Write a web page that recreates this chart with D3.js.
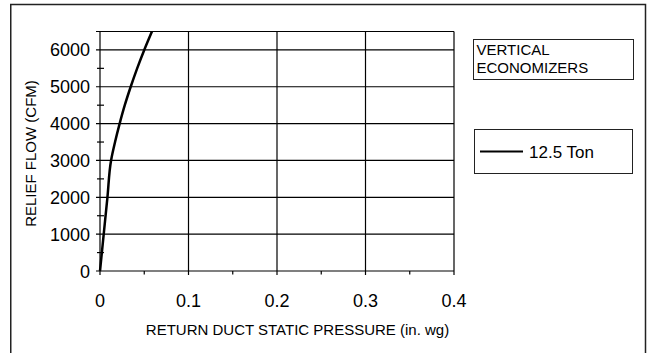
<!DOCTYPE html>
<html><head><meta charset="utf-8">
<script src="https://cdn.jsdelivr.net/npm/d3@7"></script>
<style>body{margin:0;background:#fff}svg{display:block;font-family:"Liberation Sans",Arial,sans-serif}</style>
</head><body><svg id="c" width="650" height="353"></svg>
<script>
const pressure = [0, 0.0042, 0.0084, 0.0125, 0.017, 0.0222, 0.028, 0.0347, 0.042, 0.050, 0.0587];
const flow     = [0, 1000, 2000, 3000, 3500, 4000, 4500, 5000, 5500, 6000, 6500];
const xTicks = [0, 0.1, 0.2, 0.3, 0.4];
const xMinor = [0.05, 0.15, 0.25, 0.35];
const yTicks = [0, 1000, 2000, 3000, 4000, 5000, 6000];
const yMinor = [500, 1500, 2500, 3500, 4500, 5500];
const seriesName = "12.5 Ton";
const titleLines = ["VERTICAL", "ECONOMIZERS"];

const svg = d3.select("#c");
const x = d3.scaleLinear().domain([0, 0.4]).range([100, 454]);
const y = d3.scaleLinear().domain([0, 6500]).range([271, 31.5]);

// outer frame (no bottom)
svg.append("path").attr("d", "M10.75,353 V4.5 H645.5 V353")
  .attr("fill", "none").attr("stroke", "#222").attr("stroke-width", 1.5);

const g = svg.append("g");
g.selectAll(".hg").data(yTicks.concat([6500])).join("line")
  .attr("x1", 96).attr("x2", x(0.4)).attr("y1", d => y(d)).attr("y2", d => y(d))
  .attr("stroke", "#000").attr("stroke-width", 1.2);
g.selectAll(".vg").data(xTicks).join("line")
  .attr("x1", d => x(d)).attr("x2", d => x(d)).attr("y1", y(6500)).attr("y2", 275)
  .attr("stroke", "#000").attr("stroke-width", 1.2);
g.selectAll(".ym").data(yMinor).join("line")
  .attr("x1", 97).attr("x2", 104).attr("y1", d => y(d)).attr("y2", d => y(d))
  .attr("stroke", "#000").attr("stroke-width", 1.2);
g.selectAll(".xm").data(xMinor).join("line")
  .attr("x1", d => x(d)).attr("x2", d => x(d)).attr("y1", 271).attr("y2", 274.5)
  .attr("stroke", "#000").attr("stroke-width", 1.2);

g.selectAll(".yl").data(yTicks).join("text")
  .attr("x", 90).attr("y", d => y(d) + 6.5).attr("text-anchor", "end")
  .attr("font-size", 18).text(d => d);
g.selectAll(".xl").data(xTicks).join("text")
  .attr("x", d => x(d)).attr("y", 306.5).attr("text-anchor", "middle")
  .attr("font-size", 18).text(d => d === 0 ? "0" : d.toString());

svg.append("text").attr("transform", "translate(36,153.5) rotate(-90)")
  .attr("text-anchor", "middle").attr("font-size", 15).text("RELIEF FLOW (CFM)");
svg.append("text").attr("x", 297.5).attr("y", 334.5)
  .attr("text-anchor", "middle").attr("font-size", 15).text("RETURN DUCT STATIC PRESSURE (in. wg)");

const line = d3.line().x(d => x(d[0])).y(d => y(d[1])).curve(d3.curveMonotoneY);
svg.append("path").datum(pressure.map((p, i) => [p, flow[i]]))
  .attr("d", line).attr("fill", "none").attr("stroke", "#000").attr("stroke-width", 2.5);

svg.append("rect").attr("x", 473.5).attr("y", 39.5).attr("width", 160).attr("height", 40)
  .attr("fill", "none").attr("stroke", "#222").attr("stroke-width", 1);
svg.selectAll(".tl").data(titleLines).join("text")
  .attr("x", 476.5).attr("y", (d, i) => 55 + i * 17.5).attr("font-size", 15).text(d => d);

svg.append("rect").attr("x", 474.5).attr("y", 129.5).attr("width", 158).attr("height", 44)
  .attr("fill", "none").attr("stroke", "#222").attr("stroke-width", 1);
svg.append("line").attr("x1", 480).attr("x2", 523).attr("y1", 151.5).attr("y2", 151.5)
  .attr("stroke", "#000").attr("stroke-width", 2);
svg.append("text").attr("x", 529).attr("y", 157.5).attr("font-size", 17).text(seriesName);
</script></body></html>
